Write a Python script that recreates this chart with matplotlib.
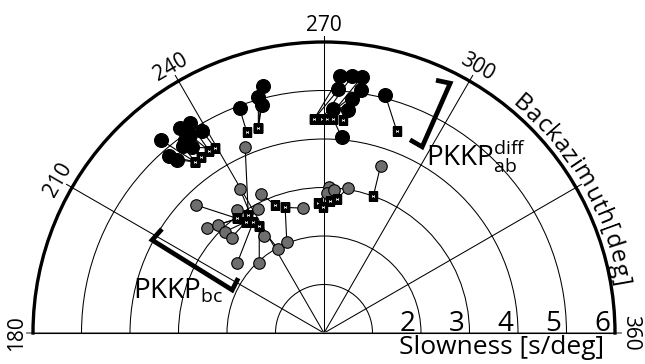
import numpy as np
import matplotlib
matplotlib.use('Agg')
import matplotlib.pyplot as plt
from matplotlib.font_manager import FontProperties

plt.rcParams['font.family'] = ['Open Sans', 'DejaVu Sans']
plt.rcParams['mathtext.fontset'] = 'custom'
plt.rcParams['mathtext.rm'] = 'Open Sans'
plt.rcParams['mathtext.it'] = 'Open Sans:italic'
plt.rcParams['mathtext.bf'] = 'Open Sans:bold'

# ---------------- data (backazimuth [deg], slowness [s/deg]) ----------------
# PKKPab^diff : observed (black circles) and predicted (squares)
ab_obs_baz = [229.8, 228.8, 229.7, 235.0, 237.4, 238.9, 234.2, 235.9, 233.0, 234.6,
              249.4, 256.1, 254.5, 254.7,
              273.6, 276.2, 278.4, 273.4, 278.7, 276.8, 272.4, 276.2, 284.4, 275.2]
ab_obs_slow = [5.21, 4.85, 4.68, 5.17, 5.13, 4.87, 4.90, 4.93, 4.83, 4.70,
               4.95, 5.25, 5.06, 4.87,
               5.31, 5.32, 5.33, 5.03, 5.07, 4.85, 4.62, 4.62, 5.07, 4.05]
ab_pred_baz = [233.0, 233.0, 233.0, 235.0, 237.8, 239.5, 235.0, 237.8, 233.0, 239.5,
               249.0, 252.2, 252.2, 252.2,
               267.3, 269.4, 270.9, 267.3, 269.4, 270.9, 272.5, 275.0, 289.8, 272.5]
ab_pred_slow = [4.42, 4.42, 4.42, 4.42, 4.44, 4.42, 4.42, 4.44, 4.42, 4.42,
                4.45, 4.43, 4.43, 4.43,
                4.41, 4.41, 4.41, 4.41, 4.41, 4.41, 4.41, 4.41, 4.43, 4.41]

# PKKPbc : observed (grey circles) and predicted (squares)
bc_obs_baz = [247.0, 239.7, 245.6, 225.0, 234.8, 241.8, 221.8, 225.5, 225.7, 225.9,
              238.3, 241.5, 247.8, 219.0, 227.1, 260.6,
              272.1, 271.1, 274.0, 279.3, 288.7]
bc_obs_slow = [4.16, 3.43, 3.15, 3.73, 3.10, 2.89, 3.24, 3.12, 2.92, 2.74,
               2.36, 1.97, 2.03, 2.30, 1.96, 2.61,
               3.02, 2.89, 2.96, 3.03, 3.64]
bc_pred_baz = [237.3, 237.6, 249.1, 232.9, 237.3, 235.0, 232.9, 232.9, 235.0, 235.0,
               238.8, 238.8, 252.8, 237.6, 238.8, 252.8,
               267.5, 269.4, 272.6, 275.4, 289.8]
bc_pred_slow = [2.89, 2.72, 2.83, 2.96, 2.89, 2.80, 2.96, 2.96, 2.80, 2.80,
                2.58, 2.58, 2.71, 2.72, 2.58, 2.71,
                2.68, 2.59, 2.73, 2.77, 3.01]

# phase range brackets (baz, slowness)
ab_bracket_baz = [293.9, 296.8, 297.8, 294.0]
ab_bracket_slow = [5.70, 5.77, 4.34, 4.36]
bc_bracket_baz = [212.7, 208.4, 205.1, 212.6]
bc_bracket_slow = [3.97, 4.03, 2.09, 2.10]

ring_values = [1, 2, 3, 4, 5]
slow_labels = [2, 3, 4, 5, 6]
spoke_baz = [210, 240, 270, 300, 330]
baz_ticks = [180, 210, 240, 270, 300, 360]
baz_ticklabels = ['180', '210', '240', '270', '300', '360']

ab_label = r'$\mathrm{PKKP}_{\mathrm{ab}}^{\mathrm{diff}}$'
bc_label = r'$\mathrm{PKKP}_{\mathrm{bc}}$'
ab_label_pos = (301.3, 4.05)
bc_label_pos = (190.3, 4.00)
baz_axis_label = 'Backazimuth[deg]'
slow_axis_label = 'Slowness [s/deg]'

rad = np.deg2rad

# ---------------- figure ----------------
W, H = 645, 364
fig = plt.figure(figsize=(W / 100, H / 100), dpi=100)
R = 291.0
cx, cy = 324.0, 31.0
side = 2 * R
ax = fig.add_axes([(cx - R) / W, (cy - 0.25 * side) / H, side / W, side / H],
                  projection='polar')
ax.set_theta_direction(-1)
ax.set_theta_offset(0)
ax.set_thetamin(180)
ax.set_thetamax(360)
ax.set_rlim(0, 6)
ax.set_xticks([])
ax.set_yticks(ring_values)
ax.set_yticklabels([])
ax.yaxis.grid(True, color='black', lw=0.75)
ax.tick_params(axis='y', length=0)
for k in ('start', 'end', 'inner'):
    ax.spines[k].set_visible(False)
ax.spines['polar'].set_linewidth(2.4)
ax.spines['polar'].set_color('black')

# spokes and baseline
for az in spoke_baz:
    ax.plot([rad(az), rad(az)], [0, 6.13], color='black', lw=0.75, clip_on=False, zorder=1)
ax.plot([rad(180), rad(180), rad(360)], [6.13, 0, 6.13], color='#808080', lw=1.3,
        clip_on=False, zorder=1)

# connection lines
for bo, so, bp, sp in zip(ab_obs_baz, ab_obs_slow, ab_pred_baz, ab_pred_slow):
    ax.plot([rad(bo), rad(bp)], [so, sp], color='black', lw=0.8, zorder=3)
for bo, so, bp, sp in zip(bc_obs_baz, bc_obs_slow, bc_pred_baz, bc_pred_slow):
    ax.plot([rad(bo), rad(bp)], [so, sp], color='black', lw=0.8, zorder=3)

# observed
ax.plot(rad(np.array(ab_obs_baz)), ab_obs_slow, 'o', ms=10, mfc='black', mec='black',
        mew=0.8, ls='none', zorder=4)
ax.plot(rad(np.array(bc_obs_baz)), bc_obs_slow, 'o', ms=8.3, mfc='#6e6e6e', mec='black',
        mew=0.8, ls='none', zorder=4)
# predicted
ax.plot(rad(np.array(ab_pred_baz)), ab_pred_slow, 's', ms=4.6, mfc='white', mec='black',
        mew=2.5, ls='none', zorder=5)
ax.plot(rad(np.array(bc_pred_baz)), bc_pred_slow, 's', ms=4.6, mfc='white', mec='black',
        mew=2.5, ls='none', zorder=5)

# brackets
ax.plot(rad(np.array(ab_bracket_baz)), ab_bracket_slow, color='black', lw=3.4,
        solid_joinstyle='miter', solid_capstyle='butt', zorder=6)
ax.plot(rad(np.array(bc_bracket_baz)), bc_bracket_slow, color='black', lw=3.4,
        solid_joinstyle='miter', solid_capstyle='butt', zorder=6)

# phase labels
ax.text(rad(ab_label_pos[0]), ab_label_pos[1], ab_label, fontsize=20, ha='left',
        va='baseline', zorder=7)
ax.text(rad(bc_label_pos[0]), bc_label_pos[1], bc_label, fontsize=20, ha='left',
        va='baseline', zorder=7)

# backazimuth tick labels
for az, lab in zip(baz_ticks, baz_ticklabels):
    ax.text(rad(az), 6.33, lab, rotation=270 - az, rotation_mode='anchor',
            ha='center', va='center', fontsize=15)

# slowness labels
for s in slow_labels:
    ax.annotate(str(s), xy=(rad(360), s - 0.27), xytext=(0, 1.5), textcoords='offset points',
                ha='center', va='baseline', fontsize=20)

fig.text(501.7 / W, 10.0 / H, slow_axis_label, ha='center', va='baseline', fontsize=19)

# curved backazimuth label
fig.canvas.draw()
renderer = fig.canvas.get_renderer()
baz_fs = 17.5
fp = FontProperties(family=['Open Sans', 'DejaVu Sans'], size=baz_fs)
widths = [renderer.get_text_width_height_descent(c, fp, ismath=False)[0]
          for c in baz_axis_label]
p0 = ax.transData.transform((0, 0))
p1 = ax.transData.transform((rad(270), 6))
px_per_unit = abs(p1[1] - p0[1]) / 6.0
r_text = 6.1
r_px = r_text * px_per_unit
az_start, az_end = 309.3, 350.8
avail = rad(az_end - az_start) * r_px
gap = (avail - sum(widths)) / (len(widths) - 1)
pos = 0.0
for c, w in zip(baz_axis_label, widths):
    centre = pos + w / 2
    az_c = az_start + np.rad2deg(centre / r_px)
    ax.text(rad(az_c), r_text, c, rotation=270 - az_c, rotation_mode='anchor',
            ha='center', va='baseline', fontproperties=fp)
    pos += w + gap

fig.savefig('out.png', dpi=100)
